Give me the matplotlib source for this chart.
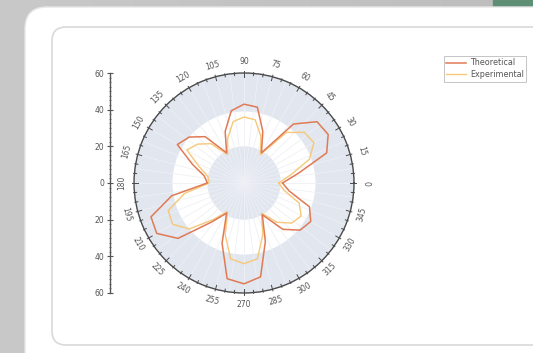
import numpy as np
import matplotlib
matplotlib.use('Agg')
import matplotlib.pyplot as plt
from matplotlib.patches import FancyBboxPatch, Rectangle

# data, angle in degrees, radius values
angles = [0, 10, 20, 30, 40, 50, 60, 70, 80, 90, 100, 110, 120, 130, 140, 150, 160, 170,
          180, 190, 200, 210, 220, 230, 240, 250, 260, 270, 280, 290, 300, 310, 320, 330, 340, 350]
theoretical = [21, 30, 48, 53, 52, 42, 19, 30, 42, 43, 40, 30, 19, 33, 39, 42, 30, 22,
               20, 40, 54, 55, 47, 28, 19, 35, 53, 55, 52, 34, 20, 33, 40, 42, 38, 25]
experimental = [19, 26, 38, 44, 43, 36, 18, 27, 35, 36, 34, 26, 18, 28, 33, 36, 26, 20,
                19, 33, 44, 45, 39, 26, 18, 30, 42, 44, 42, 30, 19, 28, 34, 36, 32, 22]
angle_labels = list(range(0, 360, 15))
r_ticks = [-60, -40, -20, 0, 20, 40, 60]

W, H = 533, 353
fig = plt.figure(figsize=(W / 100, H / 100), dpi=100)
fig.patch.set_facecolor('#c2c2c2')

# screenshot background: grey gradient, white card, inner panel
bg = fig.add_axes([0, 0, 1, 1], zorder=-10)
bg.axis('off')
grad = np.linspace(0, 1, 200)[None, :]
bg.imshow(grad, extent=(0, W, H, 0), cmap=matplotlib.colors.LinearSegmentedColormap.from_list(
    'g', ['#c9c9c9', '#bdbdbd']), aspect='auto')
bg.add_patch(Rectangle((493, 0), 40, 7, color='#5e8f74'))
bg.add_patch(FancyBboxPatch((25, 7), 560, 390, boxstyle='round,pad=0,rounding_size=22',
                            fc='white', ec='#e6e6e6', lw=1))
bg.add_patch(FancyBboxPatch((52, 27), 540, 318, boxstyle='round,pad=0,rounding_size=14',
                            fc='white', ec='#d9d9d9', lw=1.2))
bg.set_xlim(0, W)
bg.set_ylim(H, 0)

rect = [0.2514, 0.170, 0.4128, 0.6232]

# polar chart
ax = fig.add_axes(rect, projection='polar')
ax.set_facecolor('#e1e6ef')
ax.bar(0, 19, width=2 * np.pi, bottom=20, color='white', edgecolor='none', zorder=0.5)
ax.set_ylim(0, 60)
ax.set_yticks([])
ax.set_xticks(np.radians(np.arange(0, 360, 7.5)))
ax.set_xticklabels([])
ax.xaxis.grid(True, color='#eef0f5', lw=0.6)
ax.tick_params(axis='x', length=0)
ax.spines['polar'].set_color('#4a4a4a')
ax.spines['polar'].set_linewidth(1.0)

th = np.radians(angles + [angles[0]])
t_vals = theoretical + [theoretical[0]]
e_vals = experimental + [experimental[0]]
ax.plot(th, e_vals, color='#f6c878', lw=1.0, label='Experimental', zorder=2)
ax.plot(th, t_vals, color='#e07a55', lw=1.1, label='Theoretical', zorder=3)

# outer tick marks and angle labels
for a in range(0, 360, 5):
    t = np.radians(a)
    ln = 2.2 if a % 15 == 0 else 1.2
    ax.plot([t, t], [60 - ln, 60 + ln * 0.4], color='#4a4a4a', lw=0.7, clip_on=False, zorder=4)
for a in angle_labels:
    t = np.radians(a)
    rot = a - 90 if a <= 180 else a - 270
    ax.text(t, 66.5, str(a), rotation=rot, ha='center', va='center',
            fontsize=5.5, color='#555555', rotation_mode='anchor', clip_on=False)
ax.set_ylim(0, 60)

# radial scale on the left
sc = fig.add_axes([0.2064, rect[1], 0.001, rect[3]])
sc.set_ylim(-60, 60)
sc.set_xlim(0, 1)
for s in ['top', 'right', 'bottom']:
    sc.spines[s].set_visible(False)
sc.spines['left'].set_color('#555555')
sc.spines['left'].set_linewidth(1.0)
sc.set_xticks([])
sc.set_yticks(r_ticks)
sc.set_yticklabels([str(abs(v)) for v in r_ticks])
sc.set_yticks(np.arange(-60, 60.1, 2.5), minor=True)
sc.tick_params(axis='y', which='major', direction='inout', length=4, width=0.8,
               labelsize=5.5, labelcolor='#555555', color='#555555', pad=2)
sc.tick_params(axis='y', which='minor', direction='inout', length=2, width=0.5, color='#555555')
sc.patch.set_alpha(0)

# legend
h, l = ax.get_legend_handles_labels()
leg = fig.legend(h[::-1], l[::-1], loc='upper left', bbox_to_anchor=(444 / W, 1 - 56 / H),
                 fontsize=5.8, frameon=True, fancybox=False, borderpad=0.3, labelspacing=0.35,
                 handlelength=2.4, handletextpad=0.5, borderaxespad=0)
leg.get_frame().set_edgecolor('#aaaaaa')
leg.get_frame().set_linewidth(0.6)
for t in leg.get_texts():
    t.set_color('#555555')

fig.savefig('out.png', dpi=100)
